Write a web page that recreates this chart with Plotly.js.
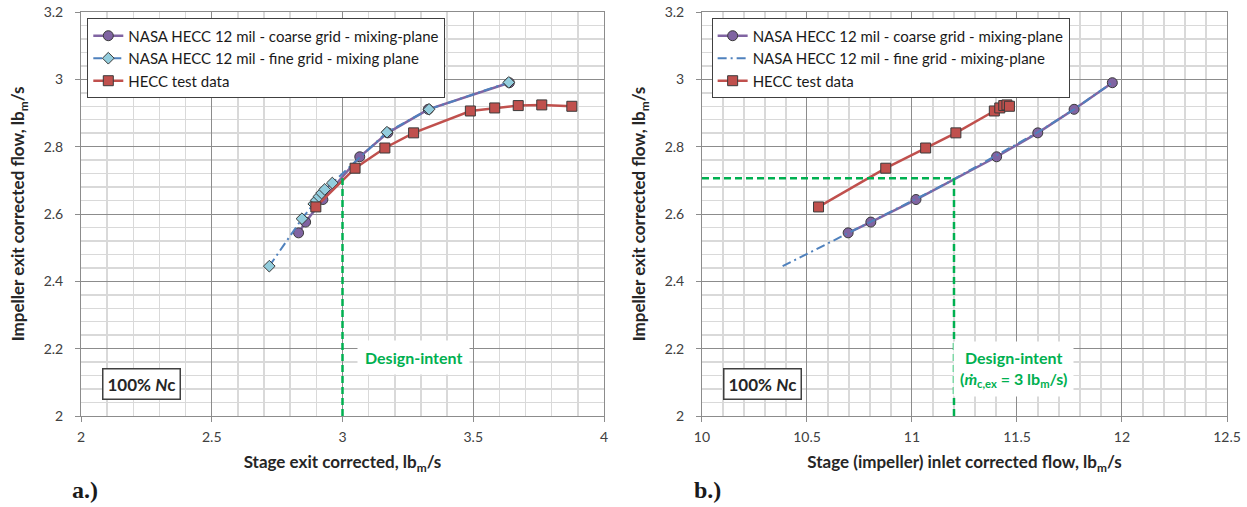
<!DOCTYPE html>
<html>
<head>
<meta charset="utf-8">
<script src="https://cdn.plot.ly/plotly-3.0.1.min.js"></script>
<style>
  html, body { margin: 0; padding: 0; background: #ffffff; }
  #chart { width: 1247px; height: 507px; }
</style>
</head>
<body>
<div id="chart"></div>
<script>
// NASA HECC 12 mil impeller, 100% corrected speed

// coarse grid, mixing-plane
const coarseExit  = [2.832, 2.859, 2.925, 3.066, 3.173, 3.328, 3.638];
const coarseInlet = [10.696, 10.804, 11.019, 11.403, 11.599, 11.772, 11.954];
const coarseImp   = [2.544, 2.576, 2.643, 2.770, 2.841, 2.911, 2.990];

// fine grid, mixing plane
const fineExit  = [2.720, 2.845, 2.890, 2.900, 2.910, 2.920, 2.932, 2.961, 3.170, 3.331, 3.636];
const fineInlet = [10.384, 10.836, 10.977, 11.013, 11.046, 11.076, 11.109, 11.166, 11.600, 11.772, 11.955];
const fineImp   = [2.445, 2.586, 2.630, 2.641, 2.652, 2.662, 2.673, 2.692, 2.843, 2.911, 2.991];

// HECC test data
const testExit  = [2.898, 3.048, 3.162, 3.272, 3.489, 3.582, 3.672, 3.762, 3.877];
const testInlet = [10.555, 10.875, 11.065, 11.209, 11.392, 11.418, 11.437, 11.452, 11.464];
const testImp   = [2.621, 2.736, 2.796, 2.841, 2.906, 2.915, 2.922, 2.924, 2.920];

// design-intent operating point
const designExit = 3.0;
const designInlet = 11.2;
const designImp = 2.706;

const seriesNames = [
  'NASA HECC 12 mil - coarse grid - mixing-plane',
  'NASA HECC 12 mil - fine grid - mixing plane',
  'NASA HECC 12 mil - fine grid - mixing-plane',
  'HECC test data'
];

const FONT = 'Lato, "Open Sans", sans-serif';
const PURPLE = '#8064a2', BLUE = '#4f81bd', AQUA = '#93cddd', RED = '#c0504d';
const GREEN = '#00b050', OUTLINE = '#3a3a3a';
const MAJOR = '#8c8c8c', MINOR = '#d9d9d9';

const coarseStyle = {
  mode: 'lines+markers',
  line: {color: PURPLE, width: 2.5},
  marker: {symbol: 'circle', size: 10, color: PURPLE, line: {color: OUTLINE, width: 1}}
};
const testStyle = {
  mode: 'lines+markers',
  line: {color: RED, width: 2.5},
  marker: {symbol: 'square', size: 10, color: RED, line: {color: OUTLINE, width: 1}}
};
const fineDash = '9px,4px,2px,4px';

const traces = [
  Object.assign({x: coarseExit, y: coarseImp, name: seriesNames[0], xaxis: 'x', yaxis: 'y', legend: 'legend'}, coarseStyle),
  {x: fineExit, y: fineImp, name: seriesNames[1], xaxis: 'x', yaxis: 'y', legend: 'legend',
   mode: 'lines+markers', line: {color: BLUE, width: 2, dash: fineDash},
   marker: {symbol: 'diamond', size: 9, color: AQUA, line: {color: OUTLINE, width: 1}}},
  Object.assign({x: testExit, y: testImp, name: seriesNames[3], xaxis: 'x', yaxis: 'y', legend: 'legend'}, testStyle),

  Object.assign({x: coarseInlet, y: coarseImp, name: seriesNames[0], xaxis: 'x2', yaxis: 'y2', legend: 'legend2'}, coarseStyle),
  {x: fineInlet, y: fineImp, name: seriesNames[2], xaxis: 'x2', yaxis: 'y2', legend: 'legend2',
   mode: 'lines', line: {color: BLUE, width: 2, dash: fineDash}},
  Object.assign({x: testInlet, y: testImp, name: seriesNames[3], xaxis: 'x2', yaxis: 'y2', legend: 'legend2'}, testStyle)
];

const titleFont = {family: FONT, size: 17, color: '#262626', weight: 'bold'};
const tickFont = {family: FONT, size: 14, color: '#404040'};

function xAxis(domain, range, anchor, title) {
  return {
    domain: domain, range: range, anchor: anchor,
    tick0: range[0], dtick: 0.5,
    showgrid: true, gridcolor: MAJOR, gridwidth: 1,
    minor: {dtick: 0.1, showgrid: true, gridcolor: MINOR, gridwidth: 1.5},
    ticks: 'outside', ticklen: 5, tickcolor: MAJOR, ticklabelstandoff: 3,
    showline: true, linecolor: MAJOR, linewidth: 1, mirror: true,
    zeroline: false,
    tickfont: tickFont,
    title: {text: title, font: titleFont, standoff: 12}
  };
}
function yAxis(anchor, title) {
  return {
    domain: [0, 1], range: [2, 3.2], anchor: anchor,
    tick0: 2, dtick: 0.2,
    showgrid: true, gridcolor: MAJOR, gridwidth: 1,
    minor: {dtick: 0.04, showgrid: true, gridcolor: MINOR, gridwidth: 1.5},
    ticks: 'outside', ticklen: 5, tickcolor: MAJOR, ticklabelstandoff: 9,
    showline: true, linecolor: MAJOR, linewidth: 1, mirror: true,
    zeroline: false,
    tickfont: tickFont,
    title: {text: title, font: titleFont, standoff: 14}
  };
}

const legendStyle = {
  bgcolor: '#ffffff', bordercolor: '#404040', borderwidth: 1,
  font: {family: FONT, size: 15, color: '#1a1a1a'},
  xanchor: 'left', yanchor: 'top', itemwidth: 30, tracegroupgap: 0
};

const noteFont = {family: FONT, size: 17, color: '#262626', weight: 'bold'};
const greenFont = {family: FONT, size: 16, color: GREEN, weight: 'bold'};

const layout = {
  width: 1247, height: 507,
  margin: {l: 81, r: 20, t: 12, b: 91, autoexpand: false},
  paper_bgcolor: '#ffffff', plot_bgcolor: '#ffffff',
  showlegend: true,
  xaxis: xAxis([0, 0.45637], [2, 4], 'y', 'Stage exit corrected, lb<sub>m</sub>/s'),
  yaxis: yAxis('x', 'Impeller exit corrected flow, lb<sub>m</sub>/s'),
  xaxis2: xAxis([0.54188, 1], [10, 12.5], 'y2', 'Stage (impeller) inlet corrected flow, lb<sub>m</sub>/s'),
  yaxis2: yAxis('x2', 'Impeller exit corrected flow, lb<sub>m</sub>/s'),
  legend: Object.assign({x: 0.0055, y: 0.984}, legendStyle),
  legend2: Object.assign({x: 0.5503, y: 0.984}, legendStyle),
  shapes: [
    {type: 'line', xref: 'x', yref: 'y', x0: designExit, x1: designExit, y0: 2, y1: designImp,
     line: {color: GREEN, width: 2.5, dash: '7px,4px'}},
    {type: 'line', xref: 'x2', yref: 'y2', x0: 10, x1: designInlet, y0: designImp, y1: designImp,
     line: {color: GREEN, width: 2.5, dash: '7px,4px'}},
    {type: 'line', xref: 'x2', yref: 'y2', x0: designInlet, x1: designInlet, y0: 2, y1: designImp,
     line: {color: GREEN, width: 2.5, dash: '7px,4px'}}
  ],
  annotations: [
    {xref: 'x', yref: 'y', x: 3.273, y: 2.174, text: 'Design-intent', showarrow: false,
     font: greenFont, bgcolor: '#ffffff', borderpad: 7},
    {xref: 'x2', yref: 'y2', x: 11.481, y: 2.141, showarrow: false,
     text: 'Design-intent<br>(<i>ṁ</i><sub>c,ex</sub> = 3 lb<sub>m</sub>/s)',
     font: greenFont, bgcolor: '#ffffff', borderpad: 6},
    {xref: 'x', yref: 'y', x: 2.233, y: 2.094, text: '100% <i>N</i>c', showarrow: false,
     font: noteFont, bgcolor: '#ffffff', bordercolor: '#404040', borderwidth: 1.5, borderpad: 4},
    {xref: 'x2', yref: 'y2', x: 10.286, y: 2.094, text: '100% <i>N</i>c', showarrow: false,
     font: noteFont, bgcolor: '#ffffff', bordercolor: '#404040', borderwidth: 1.5, borderpad: 4},
    {xref: 'paper', yref: 'paper', x: -0.0096, y: -0.182, xanchor: 'left', yanchor: 'middle',
     text: '<b>a.)</b>', showarrow: false,
     font: {family: '"Liberation Serif", "Times New Roman", serif', size: 24, color: '#1a1a1a'}},
    {xref: 'paper', yref: 'paper', x: 0.5332, y: -0.182, xanchor: 'left', yanchor: 'middle',
     text: '<b>b.)</b>', showarrow: false,
     font: {family: '"Liberation Serif", "Times New Roman", serif', size: 24, color: '#1a1a1a'}}
  ]
};

Plotly.newPlot('chart', traces, layout, {staticPlot: true, displayModeBar: false});
</script>
</body>
</html>
